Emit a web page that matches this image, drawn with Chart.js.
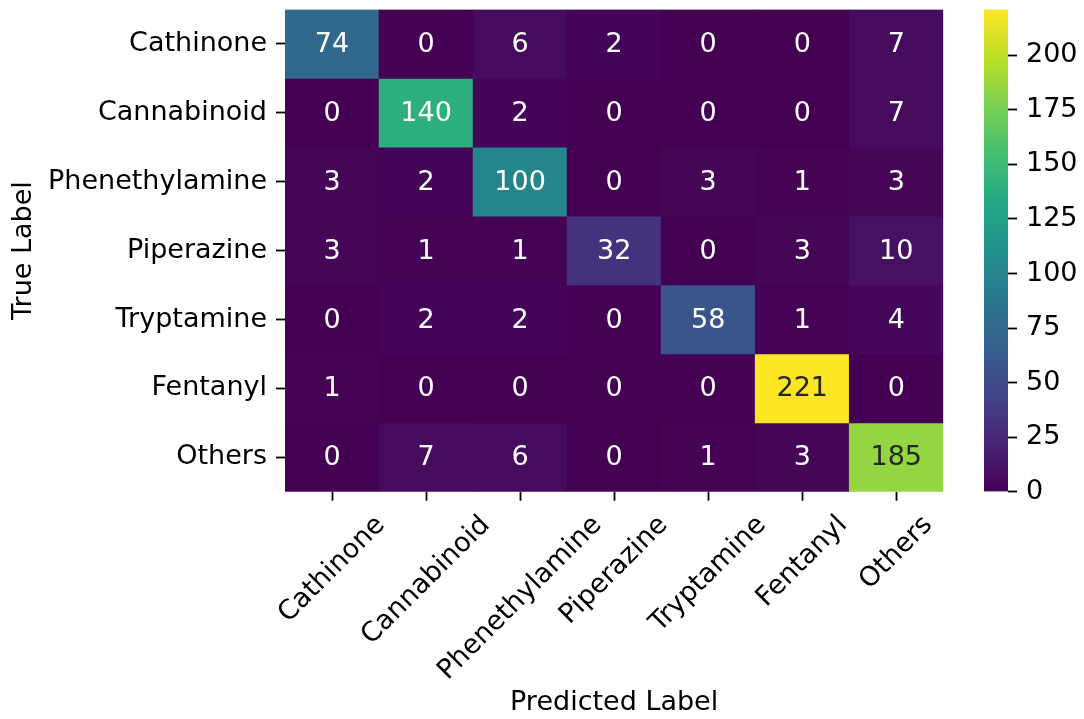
<!DOCTYPE html>
<html>
<head>
<meta charset="utf-8">
<script src="https://cdn.jsdelivr.net/npm/chart.js@4/dist/chart.umd.min.js"></script>
<style>
  html, body { margin: 0; padding: 0; background: #ffffff; }
  #wrap { position: relative; width: 1084px; height: 719px; }
  #matrix { position: absolute; left: 0; top: 0; }
  #cbar { position: absolute; left: 984px; top: 0; }
</style>
</head>
<body>
<div id="wrap">
  <canvas id="matrix" width="1084" height="719" style="width:1084px;height:719px"></canvas>
  <canvas id="cbar" width="100" height="719" style="width:100px;height:719px"></canvas>
</div>
<script>
// Class names for the rows (true) and columns (predicted)
const trueLabels = ['Cathinone', 'Cannabinoid', 'Phenethylamine', 'Piperazine', 'Tryptamine', 'Fentanyl', 'Others'];
const predictedLabels = ['Cathinone', 'Cannabinoid', 'Phenethylamine', 'Piperazine', 'Tryptamine', 'Fentanyl', 'Others'];

// Confusion-matrix counts, one array per true class
const rowCathinone      = [74, 0, 6, 2, 0, 0, 7];
const rowCannabinoid    = [0, 140, 2, 0, 0, 0, 7];
const rowPhenethylamine = [3, 2, 100, 0, 3, 1, 3];
const rowPiperazine     = [3, 1, 1, 32, 0, 3, 10];
const rowTryptamine     = [0, 2, 2, 0, 58, 1, 4];
const rowFentanyl       = [1, 0, 0, 0, 0, 221, 0];
const rowOthers         = [0, 7, 6, 0, 1, 3, 185];
const counts = [rowCathinone, rowCannabinoid, rowPhenethylamine, rowPiperazine, rowTryptamine, rowFentanyl, rowOthers];

// Colour-bar tick values
const colorbarTicks = [0, 25, 50, 75, 100, 125, 150, 175, 200];

const FONT = '"DejaVu Sans", "Liberation Sans", sans-serif';
const FS = 27;
const TICK_LEN = 9;
const TICK_PAD = 9;
const PLOT_TOP = 9.5;
const PLOT_BOTTOM = 491.7;

// viridis colour map, sampled every tenth
const VIRIDIS = ['#440154', '#482475', '#414487', '#355f8d', '#2a788e', '#21918c',
                 '#22a884', '#44bf70', '#7ad151', '#bddf26', '#fde725'];
function hexRgb(h) { return [1, 3, 5].map(i => parseInt(h.slice(i, i + 2), 16)); }
const VIR_RGB = VIRIDIS.map(hexRgb);
function viridisRgb(t) {
  t = Math.max(0, Math.min(1, t));
  const p = t * (VIR_RGB.length - 1);
  const i = Math.min(Math.floor(p), VIR_RGB.length - 2);
  const f = p - i;
  return VIR_RGB[i].map((c, k) => Math.round(c + (VIR_RGB[i + 1][k] - c) * f));
}
function viridis(t) { const [r, g, b] = viridisRgb(t); return `rgb(${r},${g},${b})`; }
function luminance([r, g, b]) {
  const lin = c => { c /= 255; return c <= 0.03928 ? c / 12.92 : Math.pow((c + 0.055) / 1.055, 2.4); };
  return 0.2126 * lin(r) + 0.7152 * lin(g) + 0.0722 * lin(b);
}

const vmin = 0;
const vmax = Math.max(...counts.flat());

// No extra room reserved for half-labels at the axis ends
function noEdgePadding(scale) {
  scale.paddingTop = 0;
  scale.paddingBottom = 0;
  scale.paddingLeft = 0;
  scale.paddingRight = 0;
}

// One floating-bar dataset per true class: each cell spans [row, row+1]
const datasets = counts.map((row, r) => ({
  label: trueLabels[r],
  data: row.map(() => [r, r + 1]),
  backgroundColor: row.map(v => viridis((v - vmin) / (vmax - vmin))),
  borderWidth: 0,
  categoryPercentage: 1,
  barPercentage: 1,
  grouped: false
}));

// Writes the count in the middle of every cell
const cellText = {
  id: 'cellText',
  afterDatasetsDraw(chart) {
    const ctx = chart.ctx;
    ctx.save();
    ctx.font = `${FS}px ${FONT}`;
    ctx.textAlign = 'center';
    ctx.textBaseline = 'middle';
    counts.forEach((row, r) => {
      const meta = chart.getDatasetMeta(r);
      meta.data.forEach((bar, c) => {
        const { x, y, base } = bar.getProps(['x', 'y', 'base'], true);
        const rgb = viridisRgb((row[c] - vmin) / (vmax - vmin));
        ctx.fillStyle = luminance(rgb) > 0.408 ? '#262626' : '#ffffff';
        ctx.fillText(String(row[c]), x, (y + base) / 2 + 1);
      });
    });
    ctx.restore();
  }
};

// Predicted-class labels, rotated 45° and centred under their ticks
const rotatedXLabels = {
  id: 'rotatedXLabels',
  afterDraw(chart) {
    const { ctx } = chart;
    const xs = chart.scales.x;
    ctx.save();
    ctx.font = `${FS}px ${FONT}`;
    ctx.fillStyle = '#000000';
    ctx.textAlign = 'center';
    ctx.textBaseline = 'middle';
    const top = xs.top + TICK_LEN + TICK_PAD;
    const h = FS * 1.164;
    predictedLabels.forEach((label, i) => {
      const w = ctx.measureText(label).width;
      const half = (w + h) / (2 * Math.SQRT2);
      const cx = xs.getPixelForValue(i);
      ctx.save();
      ctx.translate(cx, top + half);
      ctx.rotate(-Math.PI / 4);
      ctx.fillText(label, 0, 0);
      ctx.restore();
    });
    ctx.restore();
  }
};

new Chart(document.getElementById('matrix'), {
  type: 'bar',
  data: { labels: predictedLabels, datasets },
  options: {
    responsive: false,
    animation: false,
    devicePixelRatio: 1,
    events: [],
    layout: { padding: { top: PLOT_TOP, right: 140.7, left: 0, bottom: 0 } },
    plugins: { legend: { display: false }, tooltip: { enabled: false } },
    scales: {
      x: {
        type: 'category',
        offset: true,
        grid: { display: true, offset: false, drawOnChartArea: false, drawTicks: true,
                tickLength: TICK_LEN, tickColor: '#000000', tickWidth: 1.8 },
        border: { display: false },
        ticks: { display: false },
        title: { display: true, text: 'Predicted Label', color: '#000000',
                 font: { family: FONT, size: FS }, padding: { top: 0, bottom: 0 } },
        afterFit(scale) { scale.height = 719 - PLOT_BOTTOM; noEdgePadding(scale); }
      },
      y: {
        type: 'linear',
        reverse: true,
        min: 0,
        max: trueLabels.length,
        afterBuildTicks(scale) { scale.ticks = trueLabels.map((_, i) => ({ value: i + 0.5 })); },
        grid: { display: true, drawOnChartArea: false, drawTicks: true,
                tickLength: TICK_LEN, tickColor: '#000000', tickWidth: 1.8 },
        border: { display: false },
        ticks: {
          color: '#000000', padding: TICK_PAD, autoSkip: false,
          font: { family: FONT, size: FS },
          callback: v => trueLabels[Math.floor(v)]
        },
        title: { display: true, text: 'True Label', color: '#000000',
                 font: { family: FONT, size: FS }, padding: { top: 8, bottom: 0 } },
        afterFit(scale) { scale.width = 285; noEdgePadding(scale); }
      }
    }
  },
  plugins: [cellText, rotatedXLabels]
});

// Colour bar: one bar spanning vmin..vmax filled with the viridis ramp
new Chart(document.getElementById('cbar'), {
  type: 'bar',
  data: {
    labels: [''],
    datasets: [{
      data: [[vmin, vmax]],
      borderWidth: 0,
      categoryPercentage: 1,
      barPercentage: 1,
      backgroundColor(context) {
        const chart = context.chart;
        const ys = chart.scales.y;
        if (!chart.chartArea || !ys) return VIRIDIS[0];
        const g = chart.ctx.createLinearGradient(0, ys.getPixelForValue(vmin), 0, ys.getPixelForValue(vmax));
        VIRIDIS.forEach((c, i) => g.addColorStop(i / (VIRIDIS.length - 1), c));
        return g;
      }
    }]
  },
  options: {
    responsive: false,
    animation: false,
    devicePixelRatio: 1,
    events: [],
    layout: { padding: { top: PLOT_TOP, bottom: 719 - PLOT_BOTTOM, left: 0, right: 0 } },
    plugins: { legend: { display: false }, tooltip: { enabled: false } },
    scales: {
      x: { display: false, offset: true },
      y: {
        type: 'linear',
        position: 'right',
        min: vmin,
        max: vmax,
        afterBuildTicks(scale) { scale.ticks = colorbarTicks.map(v => ({ value: v })); },
        grid: { display: true, drawOnChartArea: false, drawTicks: true,
                tickLength: TICK_LEN, tickColor: '#000000', tickWidth: 1.8 },
        border: { display: false },
        ticks: { color: '#000000', padding: TICK_PAD, font: { family: FONT, size: FS } },
        afterFit(scale) { scale.width = 76; noEdgePadding(scale); }
      }
    }
  }
});
</script>
</body>
</html>
